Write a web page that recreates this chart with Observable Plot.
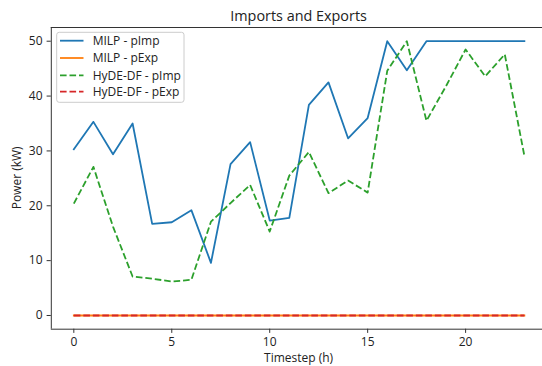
<!DOCTYPE html>
<html><head><meta charset="utf-8">
<script src="https://cdn.jsdelivr.net/npm/d3@7"></script>
<script src="https://cdn.jsdelivr.net/npm/@observablehq/plot@0.6"></script>
<style>html,body{margin:0;padding:0;background:#fff;overflow:hidden} svg{display:block}</style>
</head><body><div id="chart"></div>
<script>
const timesteps = [0,1,2,3,4,5,6,7,8,9,10,11,12,13,14,15,16,17,18,19,20,21,22,23];
const milpImp = [30.3,35.3,29.4,35.0,16.7,17.0,19.2,9.6,27.6,31.6,17.3,17.8,38.4,42.5,32.3,36.0,50.0,44.7,50.0,50.0,50.0,50.0,50.0,50.0];
const milpExp = [0,0,0,0,0,0,0,0,0,0,0,0,0,0,0,0,0,0,0,0,0,0,0,0];
const hydeImp = [20.4,27.1,16.2,7.1,6.7,6.2,6.5,17.1,20.5,23.8,15.3,25.5,29.8,22.3,24.6,22.4,44.6,50.0,35.5,41.8,48.5,43.6,47.6,29.1];
const hydeExp = [0,0,0,0,0,0,0,0,0,0,0,0,0,0,0,0,0,0,0,0,0,0,0,0];
const seriesNames = ["MILP - pImp","MILP - pExp","HyDE-DF - pImp","HyDE-DF - pExp"];
const seriesColors = ["#1f77b4","#ff7f0e","#2ca02c","#d62728"];
const seriesDash = [null,null,"6.6,2.9","6.6,2.9"];
const xTicks = [0,5,10,15,20];
const yTicks = [0,10,20,30,40,50];
const titleText = "Imports and Exports";
const xLabel = "Timestep (h)";
const yLabel = "Power (kW)";

const W = 542, H = 366;
const xDomain = [-1.15, 24.15], yDomain = [-2.5, 52.5];
const xRange = [50.8, 546.4], yRange = [328.7, 27];
const seriesData = [milpImp, milpExp, hydeImp, hydeExp];
const ff = "Open Sans";

const lineMarks = seriesData.map((vals, i) =>
  Plot.line(timesteps.map((t, j) => ({t, v: vals[j]})), {
    x: "t", y: "v", stroke: seriesColors[i], strokeWidth: 1.8,
    strokeDasharray: seriesDash[i], strokeLinejoin: "round",
    strokeLinecap: seriesDash[i] ? "butt" : "square"
  })
);

const svg = Plot.plot({
  width: W, height: H,
  marginLeft: xRange[0], marginRight: W - xRange[1],
  marginTop: yRange[1], marginBottom: H - yRange[0],
  x: {domain: xDomain, range: xRange},
  y: {domain: yDomain, range: yRange},
  style: {fontFamily: ff, fontSize: "12px", color: "#222", background: "#fff"},
  marks: [
    ...lineMarks,
    Plot.ruleY([yDomain[0], yDomain[1]], {stroke: "#333", strokeWidth: 1}),
    Plot.ruleX([xDomain[0]], {stroke: "#333", strokeWidth: 1}),
    Plot.axisX({ticks: xTicks, tickSize: 4.2, tickPadding: 4, fontSize: 12, label: null, strokeWidth: 1, stroke: "#333"}),
    Plot.axisY({ticks: yTicks, tickSize: 4.2, tickPadding: 4.6, fontSize: 12, label: null, strokeWidth: 1, stroke: "#333"})
  ]
});
document.getElementById("chart").appendChild(svg);

const s = d3.select(svg);
s.append("text").attr("x", (xRange[0]+xRange[1])/2).attr("y", 20.5)
  .attr("text-anchor","middle").attr("font-family",ff).attr("font-size",14.4).attr("fill","#222").text(titleText);
s.append("text").attr("x", (xRange[0]+xRange[1])/2).attr("y", 362.3)
  .attr("text-anchor","middle").attr("font-family",ff).attr("font-size",12).attr("fill","#222").text(xLabel);
s.append("text").attr("transform", `translate(21.3,${(yRange[0]+yRange[1])/2}) rotate(-90)`)
  .attr("text-anchor","middle").attr("font-family",ff).attr("font-size",12).attr("fill","#222").text(yLabel);

const lg = s.append("g");
lg.append("rect").attr("x",56.7).attr("y",32.3).attr("width",127.3).attr("height",70)
  .attr("rx",2.5).attr("fill","#fff").attr("fill-opacity",0.8).attr("stroke","#cccccc").attr("stroke-width",1);
const rowY = [40.7, 58.0, 75.3, 91.7];
seriesNames.forEach((name, i) => {
  lg.append("line").attr("x1",60).attr("x2",83.5).attr("y1",rowY[i]).attr("y2",rowY[i])
    .attr("stroke",seriesColors[i]).attr("stroke-width",1.8)
    .attr("stroke-dasharray", seriesDash[i]);
  lg.append("text").attr("x",92.7).attr("y",rowY[i]).attr("dy","0.35em")
    .attr("text-anchor","start")
    .attr("font-family",ff).attr("font-size",12).attr("fill","#222").text(name);
});
</script>
</body></html>
